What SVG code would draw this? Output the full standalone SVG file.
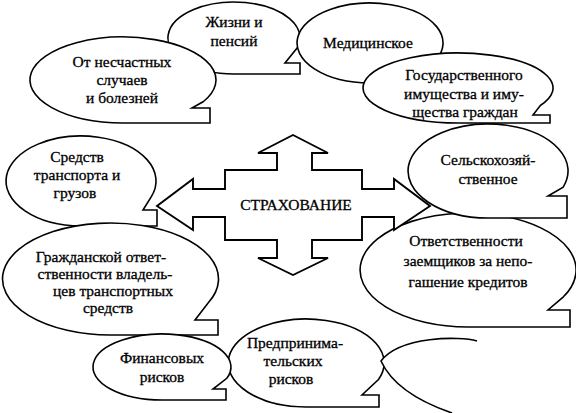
<svg xmlns="http://www.w3.org/2000/svg" width="576" height="413" viewBox="0 0 576 413">
<style>
.b{fill:#fff;stroke:#000;stroke-width:1.6;stroke-linejoin:miter}
.c{fill:#fff;stroke:#000;stroke-width:1.9;stroke-linejoin:miter}
text{font-family:"Liberation Serif","DejaVu Serif",serif;font-size:15.5px;fill:#000;stroke:#000;stroke-width:0.3;text-anchor:middle}
</style>
<rect width="576" height="413" fill="#fff"/>
<g id="n-zhizni"><path class="b" d="M234,74 A66,36 0 1 1 297.7,47.3 L285,63 L300,63 L300,74 Z"/><text x="234" y="27">Жизни и</text><text x="234" y="46">пенсий</text></g>
<g id="n-ot"><path class="b" d="M123,123 A93,43 0 1 1 203.5,101.5 L192,108 L210,108 L210,123 Z"/><text x="122" y="67">От несчастных</text><text x="122" y="85">случаев</text><text x="122" y="103">и болезней</text></g>
<g id="n-med"><path class="b" d="M370,83 A73,40 0 1 1 436.2,59.9 L425,72 L445,72 L445,83 Z"/><text x="368" y="48">Медицинское</text></g>
<g id="n-gos"><path class="b" d="M458,123 A95,35 0 1 1 540.3,105.5 L533,115 L550,115 L550,123 Z"/><text x="464" y="80">Государственного</text><text x="464" y="99">имущества и иму-</text><text x="465" y="117">щества граждан</text></g>
<g id="n-otv"><path class="b" d="M468,327 A108,57 0 1 1 563.4,296.8 L548,310 L570,310 L570,327 Z"/><text x="466" y="246">Ответственности</text><text x="468" y="266">заемщиков за непо-</text><text x="468" y="287">гашение кредитов</text></g>
<g id="n-sel"><path class="b" d="M488,218 A80,47 0 1 1 563.2,187.1 L548,196 L567,196 L567,218 Z"/><text x="488" y="165">Сельскохозяй-</text><text x="488" y="184">ственное</text></g>
<g id="n-sred"><path class="b" d="M81,226 A75,45 0 1 1 151.5,196.4 L143,210 L157,210 L157,226 Z"/><text x="77" y="162">Средств</text><text x="77" y="180">транспорта и</text><text x="75" y="198">грузов</text></g>
<g id="n-grazh"><path class="b" d="M110,335 A108,56 0 1 1 207.9,303.2 L195,320 L218,320 L218,335 Z"/><text x="101" y="262">Гражданской ответ-</text><text x="105" y="279">ственности владель-</text><text x="113" y="296">цев транспортных</text><text x="108" y="313">средств</text></g>
<g id="n-pred"><path class="b" d="M306,407 A78,44 0 1 1 378.5,379.5 L362,395 L379,395 L379,407 Z"/><text x="295" y="348">Предпринима-</text><text x="293" y="366">тельских</text><text x="291" y="384">рисков</text></g>
<g id="n-fin"><path class="b" d="M162,400 A69,33 0 1 1 226.8,378.3 L213,389 L226,389 L226,400 Z"/><text x="162" y="363">Финансовых</text><text x="162" y="382">рисков</text></g>
<g id="n-empty"><path class="b" d="M477,341 C460,336 400,336 381,361 C392,385 420,402 452,413"/></g>
<g id="n-center"><polygon class="c" points="293,135 328,153 312,153 312,170 362,170 362,189 394,189 394,179 430,206 394,230 394,217 362,217 362,240 312,240 312,258 328,258 293,275 258,258 277,258 277,240 225,240 225,217 193,217 193,230 157,206 193,179 193,189 225,189 225,170 277,170 277,153 258,153"/><text x="296" y="210">СТРАХОВАНИЕ</text></g>
<g id="connectors"></g>
</svg>
